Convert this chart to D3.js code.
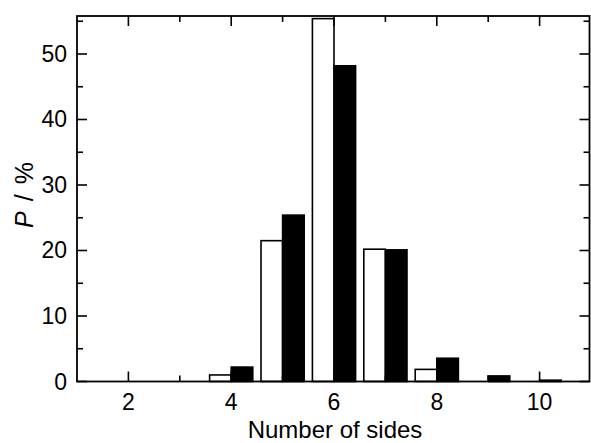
<!DOCTYPE html>
<html>
<head>
<meta charset="utf-8">
<script src="https://cdn.jsdelivr.net/npm/d3@7"></script>
<style>
  html, body { margin: 0; padding: 0; background: #fff; }
  svg { display: block; }
  text { font-family: "Liberation Sans", Arial, sans-serif; fill: #000; }
</style>
</head>
<body>
<script>
// ---- data ----
const sides = [2, 3, 4, 5, 6, 7, 8, 9, 10];
const openSeries = [0, 0, 1.0, 21.5, 55.4, 20.2, 1.85, 0, 0];
const filledSeries = [0, 0, 2.2, 25.4, 48.2, 20.1, 3.55, 0.85, 0.2];
const xMajorTicks = [2, 4, 6, 8, 10];
const xMinorTicks = [3, 5, 7, 9];
const yMajorTicks = [0, 10, 20, 30, 40, 50];
const yMinorTicks = [5, 15, 25, 35, 45, 55];
const xLabel = "Number of sides";

// ---- layout ----
const W = 591, H = 443;
const pL = 77, pR = 589.5, pT = 16, pB = 381.5;

const svg = d3.select("body").append("svg").attr("width", W).attr("height", H);

const x = d3.scaleLinear().domain([1, 11]).range([pL, 591]);
const y = d3.scaleLinear().domain([0, 55.8]).range([pB, pT]);

const barW = 0.42;

// bars
const g = svg.append("g");
sides.forEach((s, i) => {
  const vo = openSeries[i], vf = filledSeries[i];
  if (vo > 0) {
    g.append("rect")
      .attr("x", x(s - barW)).attr("y", y(vo))
      .attr("width", x(s) - x(s - barW)).attr("height", y(0) - y(vo))
      .attr("fill", "#fff").attr("stroke", "#000").attr("stroke-width", 1.6);
  }
  if (vf > 0) {
    g.append("rect")
      .attr("x", x(s)).attr("y", y(vf))
      .attr("width", x(s + barW) - x(s)).attr("height", y(0) - y(vf))
      .attr("fill", "#000").attr("stroke", "#000").attr("stroke-width", 1.6);
  }
});

// frame
svg.append("rect")
  .attr("x", pL).attr("y", pT)
  .attr("width", pR - pL).attr("height", pB - pT)
  .attr("fill", "none").attr("stroke", "#000").attr("stroke-width", 1.8);

const majLen = 10, minLen = 6;
const tickG = svg.append("g").attr("stroke", "#000").attr("stroke-width", 1.6);
xMajorTicks.forEach(t => {
  tickG.append("line").attr("x1", x(t)).attr("x2", x(t)).attr("y1", pB).attr("y2", pB - majLen);
  tickG.append("line").attr("x1", x(t)).attr("x2", x(t)).attr("y1", pT).attr("y2", pT + majLen);
});
xMinorTicks.forEach(t => {
  tickG.append("line").attr("x1", x(t)).attr("x2", x(t)).attr("y1", pB).attr("y2", pB - minLen);
  tickG.append("line").attr("x1", x(t)).attr("x2", x(t)).attr("y1", pT).attr("y2", pT + minLen);
});
yMajorTicks.forEach(t => {
  tickG.append("line").attr("y1", y(t)).attr("y2", y(t)).attr("x1", pL).attr("x2", pL + majLen);
  tickG.append("line").attr("y1", y(t)).attr("y2", y(t)).attr("x1", pR).attr("x2", pR - majLen);
});
yMinorTicks.forEach(t => {
  tickG.append("line").attr("y1", y(t)).attr("y2", y(t)).attr("x1", pL).attr("x2", pL + minLen);
  tickG.append("line").attr("y1", y(t)).attr("y2", y(t)).attr("x1", pR).attr("x2", pR - minLen);
});

// tick labels
svg.append("g").selectAll("text").data(xMajorTicks).join("text")
  .attr("x", d => x(d)).attr("y", 410)
  .attr("text-anchor", "middle").attr("font-size", 23)
  .text(d => d);
svg.append("g").selectAll("text").data(yMajorTicks).join("text")
  .attr("x", 67).attr("y", d => y(d) + 8)
  .attr("text-anchor", "end").attr("font-size", 23)
  .text(d => d);

// axis titles
svg.append("text")
  .attr("x", 335).attr("y", 438)
  .attr("text-anchor", "middle").attr("font-size", 24)
  .text(xLabel);

const yt = svg.append("text")
  .attr("transform", `translate(33, 195) rotate(-90)`)
  .attr("text-anchor", "middle").attr("font-size", 25);
yt.append("tspan").attr("font-style", "italic").text("P");
yt.append("tspan").attr("dx", 10).text("/");
yt.append("tspan").attr("dx", 10).text("%");
</script>
</body>
</html>
